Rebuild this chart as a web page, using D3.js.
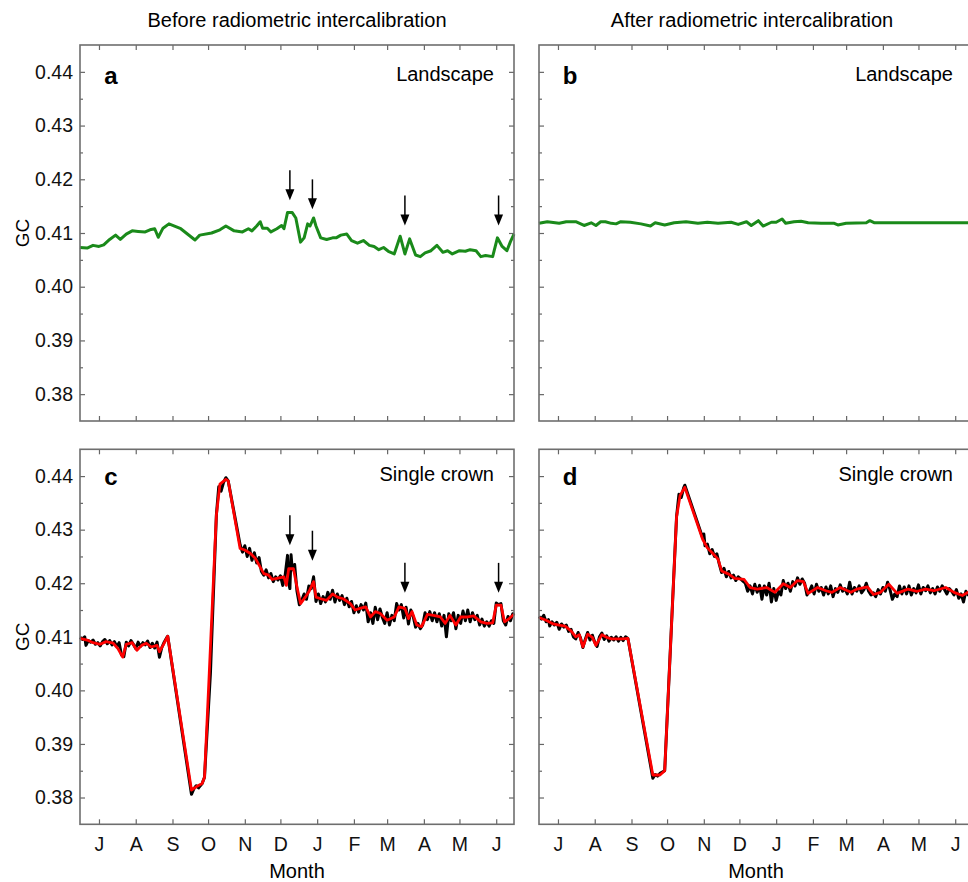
<!DOCTYPE html>
<html>
<head>
<meta charset="utf-8">
<script src="https://cdn.jsdelivr.net/npm/d3@7"></script>
<style>
body { margin: 0; background: #fff; }
svg { display: block; font-family: "Liberation Sans", Arial, sans-serif; }
</style>
</head>
<body>
<svg class="js-vis" width="968" height="882"></svg>
<script>
// x values are days since 15 June 2016
const startDate = new Date(2016, 5, 15),
    endDate = new Date(2017, 5, 16)

const yTicks = [0.38, 0.39, 0.40, 0.41, 0.42, 0.43, 0.44]
const yMinor = [0.385, 0.395, 0.405, 0.415, 0.425, 0.435]

const colTitles = ["Before radiometric intercalibration", "After radiometric intercalibration"]
const panelLetters = ["a", "b", "c", "d"]
const panelNames = ["Landscape", "Landscape", "Single crown", "Single crown"]

// arrows marking peaks in the uncorrected series
const arrowDays = [177, 196, 274, 353]
const arrowTipsA = [0.4161, 0.4144, 0.4114, 0.4114]
const arrowTipsC = [0.4271, 0.4242, 0.4182, 0.4182]

// landscape GC, before intercalibration
const landscapeBefore = [
  [0,.4073],[6,.4072],[11,.4077],[16,.4075],[20,.4078],[25,.4088],[30,.4096],[34,.4088],
  [39,.4098],[44,.4104],[49,.4103],[55,.4102],[59,.4106],[63,.4108],[66,.4092],[70,.4109],
  [75,.4117],[85,.4108],[97,.4087],[101,.4096],[111,.4100],[118,.4106],[123,.4113],[130,.4104],
  [137,.4102],[142,.4108],[145,.4104],[149,.4113],[152,.4121],[154,.4109],[158,.4109],[161,.4102],
  [166,.4108],[170,.4114],[172,.4108],[175,.4138],[179,.4138],[182,.4128],[186,.4083],[189,.4091],
  [192,.4117],[194,.4113],[197,.4128],[199,.4113],[203,.4091],[208,.4088],[213,.4091],[216,.4091],
  [220,.4096],[225,.4098],[229,.4086],[234,.4081],[239,.4086],[244,.4077],[248,.4075],[252,.4069],
  [256,.4073],[260,.4066],[265,.4061],[270,.4094],[274,.4061],[278,.4089],[283,.4059],[287,.4056],
  [291,.4063],[296,.4067],[301,.4077],[306,.4064],[310,.4067],[314,.4061],[320,.4067],[325,.4066],
  [329,.4069],[334,.4067],[338,.4056],[342,.4058],[348,.4056],[352,.4091],[356,.4075],[360,.4067],
  [363,.4084],[366,.4098]
]

// landscape GC, after intercalibration
const landscapeAfter = [
  [0,.4118],[7,.4121],[17,.4118],[23,.4121],[31,.4121],[38,.4114],[44,.4119],[48,.4114],
  [52,.4121],[56,.4121],[61,.4118],[65,.4117],[69,.4121],[77,.4120],[86,.4117],[94,.4113],
  [98,.4119],[106,.4115],[114,.4119],[124,.4121],[134,.4118],[142,.4120],[151,.4118],[162,.4120],
  [168,.4116],[175,.4121],[179,.4114],[185,.4123],[189,.4113],[196,.4120],[200,.4120],[205,.4126],
  [208,.4118],[215,.4121],[221,.4122],[227,.4119],[238,.4118],[249,.4118],[252,.4115],[259,.4118],
  [276,.4119],[279,.4123],[283,.4119],[308,.4119],[331,.4119],[351,.4119],[366,.4119]
]

// single crown, before: daily GC (black) and smoothed (red)
const crownBeforeDaily = [
  [0,.4099],[2,.4095],[4,.4100],[5,.4084],[7,.4093],[9,.4090],[11,.4094],[13,.4086],[15,.4089],
  [17,.4083],[19,.4091],[21,.4095],[23,.4087],[25,.4093],[27,.4085],[29,.4091],[31,.4082],[33,.4089],
  [35,.4066],[37,.4063],[39,.4090],[41,.4083],[43,.4093],[45,.4086],[47,.4078],[49,.4090],[51,.4082],
  [53,.4089],[55,.4085],[57,.4092],[59,.4080],[61,.4088],[63,.4079],[65,.4090],[67,.4062],[69,.4080],
  [71,.4090],[73,.4098],[74,.4101],[94,.3806],[96,.3816],[98,.3822],[100,.3818],[103,.3826],
  [105,.3838],[110,.4032],[115,.4327],[117,.4380],[119,.4372],[121,.4388],[123,.4397],[125,.4391],
  [135,.4272],[137,.4258],[139,.4270],[141,.4250],[143,.4265],[145,.4243],[147,.4257],[149,.4238],
  [151,.4248],[153,.4222],[155,.4215],[157,.4225],[159,.4210],[161,.4218],[163,.4203],[165,.4212],
  [167,.4206],[169,.4214],[171,.4196],[173,.4215],[175,.4252],[176,.4200],[177,.4190],[178,.4253],
  [179,.4225],[181,.4235],[183,.4185],[185,.4160],[187,.4168],[189,.4180],[191,.4170],[193,.4195],
  [195,.4190],[197,.4212],[199,.4166],[201,.4180],[203,.4162],[205,.4175],[207,.4165],[209,.4183],
  [211,.4170],[213,.4187],[215,.4165],[217,.4180],[219,.4168],[221,.4177],[223,.4160],[225,.4172],
  [227,.4156],[229,.4166],[231,.4145],[233,.4158],[235,.4146],[237,.4160],[239,.4150],[241,.4163],
  [243,.4128],[245,.4145],[247,.4125],[249,.4155],[251,.4132],[253,.4152],[255,.4136],[257,.4125],
  [259,.4145],[261,.4122],[263,.4140],[265,.4130],[267,.4162],[269,.4150],[271,.4160],[273,.4135],
  [275,.4155],[277,.4124],[279,.4150],[281,.4138],[283,.4118],[285,.4125],[287,.4115],[289,.4122],
  [291,.4145],[293,.4132],[295,.4147],[297,.4130],[299,.4145],[301,.4128],[303,.4143],[305,.4120],
  [307,.4140],[309,.4100],[311,.4143],[313,.4130],[315,.4145],[317,.4115],[319,.4140],[321,.4125],
  [323,.4148],[325,.4130],[327,.4150],[329,.4128],[331,.4145],[333,.4132],[335,.4140],[337,.4122],
  [339,.4133],[341,.4120],[343,.4128],[345,.4120],[347,.4130],[349,.4125],[351,.4163],[353,.4160],
  [355,.4162],[357,.4130],[359,.4122],[361,.4138],[363,.4130],[365,.4143],[366,.4140]
]
const crownBeforeSmooth = [
  [0,.4097],[6,.4094],[11,.4089],[17,.4086],[22,.4091],[28,.4088],[32,.4078],[36,.4062],[39,.4086],
  [44,.4089],[48,.4075],[52,.4084],[56,.4088],[60,.4081],[65,.4084],[67,.4072],[70,.4084],[74,.4101],
  [94,.3814],[98,.3820],[103,.3826],[105,.3838],[109,.4032],[115,.4327],[118,.4385],[123,.4394],
  [125,.4391],[135,.4265],[139,.4262],[144,.4255],[148,.4246],[155,.4218],[159,.4215],[162,.4207],
  [166,.4209],[172,.4212],[174,.4196],[176,.4227],[180,.4227],[183,.4193],[186,.4162],[190,.4174],
  [193,.4184],[197,.4203],[199,.4174],[203,.4171],[208,.4168],[213,.4180],[217,.4174],[222,.4171],
  [228,.4162],[232,.4150],[236,.4153],[241,.4156],[245,.4137],[249,.4147],[253,.4144],[259,.4131],
  [265,.4137],[269,.4156],[274,.4153],[277,.4134],[280,.4147],[284,.4122],[288,.4119],[293,.4142],
  [298,.4140],[304,.4137],[308,.4125],[312,.4140],[317,.4122],[321,.4137],[327,.4137],[332,.4139],
  [338,.4128],[343,.4125],[348,.4126],[351,.4159],[355,.4159],[358,.4128],[362,.4134],[366,.4142]
]

// single crown, after
const crownAfterDaily = [
  [0,.4138],[2,.4133],[4,.4140],[6,.4128],[8,.4132],[9,.4120],[11,.4128],[13,.4122],[15,.4127],
  [17,.4114],[19,.4124],[21,.4118],[23,.4122],[25,.4110],[27,.4114],[29,.4100],[31,.4096],[33,.4108],
  [35,.4098],[37,.4080],[39,.4095],[41,.4108],[43,.4094],[45,.4103],[47,.4090],[49,.4082],[51,.4100],
  [53,.4107],[55,.4095],[57,.4102],[59,.4092],[61,.4099],[63,.4094],[65,.4100],[67,.4092],[69,.4099],
  [71,.4093],[73,.4100],[75,.4097],[96,.3836],[98,.3843],[100,.3840],[102,.3845],[106,.3850],
  [116,.4324],[118,.4366],[120,.4360],[122,.4378],[123,.4383],[138,.4285],[139,.4292],[140,.4270],
  [142,.4273],[144,.4255],[146,.4263],[148,.4250],[150,.4255],[152,.4236],[154,.4220],[156,.4228],
  [158,.4212],[160,.4222],[162,.4210],[164,.4215],[166,.4205],[168,.4212],[170,.4208],[172,.4204],
  [174,.4200],[176,.4185],[178,.4195],[180,.4180],[182,.4198],[184,.4183],[186,.4196],[188,.4170],
  [190,.4195],[192,.4178],[194,.4200],[196,.4165],[198,.4190],[200,.4168],[202,.4185],[204,.4178],
  [206,.4205],[208,.4190],[210,.4200],[212,.4185],[214,.4203],[216,.4195],[218,.4210],[220,.4198],
  [222,.4208],[224,.4200],[226,.4178],[228,.4185],[230,.4195],[232,.4180],[234,.4198],[236,.4185],
  [238,.4192],[240,.4178],[242,.4193],[244,.4180],[246,.4195],[248,.4175],[250,.4190],[252,.4183],
  [254,.4197],[256,.4185],[258,.4190],[260,.4180],[262,.4202],[264,.4180],[266,.4192],[268,.4185],
  [270,.4195],[272,.4182],[274,.4188],[276,.4200],[278,.4185],[280,.4178],[282,.4182],[284,.4175],
  [286,.4188],[288,.4180],[290,.4192],[292,.4185],[294,.4202],[296,.4188],[298,.4170],[300,.4180],
  [302,.4175],[304,.4195],[306,.4180],[308,.4193],[310,.4180],[312,.4195],[314,.4178],[316,.4190],
  [318,.4182],[320,.4197],[322,.4180],[324,.4192],[326,.4186],[328,.4195],[330,.4182],[332,.4190],
  [334,.4180],[336,.4193],[338,.4185],[340,.4195],[342,.4188],[344,.4180],[346,.4190],[348,.4185],
  [350,.4178],[352,.4188],[354,.4172],[356,.4180],[358,.4165],[360,.4185],[362,.4178],[364,.4188],
  [366,.4180]
]
const crownAfterSmooth = [
  [0,.4136],[6,.4131],[12,.4124],[17,.4122],[22,.4120],[27,.4111],[31,.4100],[34,.4104],[37,.4081],
  [41,.4105],[45,.4099],[48,.4084],[53,.4104],[57,.4099],[61,.4096],[67,.4096],[71,.4096],[75,.4097],
  [96,.3842],[102,.3842],[106,.3850],[116,.4324],[119,.4364],[123,.4379],[138,.4282],[142,.4266],
  [146,.4257],[151,.4245],[154,.4223],[160,.4217],[165,.4209],[173,.4207],[178,.4192],[184,.4189],
  [192,.4192],[199,.4183],[206,.4199],[212,.4192],[218,.4205],[223,.4203],[227,.4181],[235,.4192],
  [242,.4186],[247,.4183],[254,.4192],[263,.4183],[268,.4189],[277,.4193],[282,.4179],[288,.4183],
  [295,.4198],[302,.4181],[311,.4189],[319,.4185],[326,.4189],[333,.4186],[343,.4192],[350,.4183],
  [357,.4177],[362,.4183],[366,.4180]
]

const svg = d3.select(".js-vis")

const lefts = [80, 539], tops = [45, 449.3], w = 434, heights = [376, 375]

const panels = [
  { col: 0, row: 0, series: [{ data: landscapeBefore, color: "#1a8a1a", width: 3 }], arrows: arrowTipsA },
  { col: 1, row: 0, series: [{ data: landscapeAfter, color: "#1a8a1a", width: 3 }] },
  { col: 0, row: 1, series: [{ data: crownBeforeDaily, color: "#000", width: 3 }, { data: crownBeforeSmooth, color: "#ff0000", width: 2.8 }], arrows: arrowTipsC },
  { col: 1, row: 1, series: [{ data: crownAfterDaily, color: "#000", width: 3 }, { data: crownAfterSmooth, color: "#ff0000", width: 2.8 }] }
]

const toDate = d => d3.timeDay.offset(startDate, d)
const months = d3.timeMonth.range(d3.timeMonth.ceil(startDate), endDate)

panels.forEach((p, i) => {
  const h = heights[p.row]
  const g = svg.append("g")
    .attr("transform", "translate(" + lefts[p.col] + "," + tops[p.row] + ")")

  const x = d3.scaleTime().domain([startDate, endDate]).range([0, w])
  const y = d3.scaleLinear().domain([0.375, 0.445]).range([h, 0])

  // axes with inward ticks
  g.append("g").attr("transform", "translate(0," + h + ")")
    .call(d3.axisBottom(x).tickValues(months).tickSizeInner(-5).tickSizeOuter(0).tickPadding(13)
      .tickFormat(d => p.row == 1 ? d3.timeFormat("%b")(d)[0] : ""))
  g.append("g")
    .call(d3.axisTop(x).tickValues(months).tickSizeInner(-5).tickSizeOuter(0).tickFormat(""))
  g.append("g")
    .call(d3.axisLeft(y).tickValues(yTicks).tickSizeInner(-5).tickSizeOuter(0).tickPadding(7)
      .tickFormat(d => p.col == 0 ? d3.format(".2f")(d) : ""))
  g.append("g").attr("transform", "translate(" + w + ",0)")
    .call(d3.axisRight(y).tickValues(yTicks).tickSizeInner(-5).tickSizeOuter(0).tickFormat(""))
  g.append("g")
    .call(d3.axisLeft(y).tickValues(yMinor).tickSizeInner(-3).tickSizeOuter(0).tickFormat(""))
  g.append("g").attr("transform", "translate(" + w + ",0)")
    .call(d3.axisRight(y).tickValues(yMinor).tickSizeInner(-3).tickSizeOuter(0).tickFormat(""))

  g.selectAll(".domain").remove()
  g.selectAll(".tick line").attr("stroke", "#666").attr("stroke-width", 1.2)
  g.selectAll(".tick text").attr("fill", "#111").style("font-size", "19.5px")
    .style("font-family", "'Liberation Sans', Arial, sans-serif")

  const line = d3.line()
    .x(d => x(toDate(d[0])))
    .y(d => y(d[1]))

  p.series.forEach(s => {
    g.append("path")
      .datum(s.data)
      .attr("d", line)
      .attr("fill", "none")
      .attr("stroke", s.color)
      .attr("stroke-width", s.width)
      .attr("stroke-linejoin", "round")
  })

  g.append("rect")
    .attr("width", w).attr("height", h)
    .attr("fill", "none").attr("stroke", "#6e6e6e").attr("stroke-width", 1.6)

  if (p.arrows) {
    const arr = g.selectAll(".arrow")
      .data(arrowDays.map((d, k) => [d, p.arrows[k]]))
    .enter().append("g")
      .attr("class", "arrow")
      .attr("transform", d => "translate(" + x(toDate(d[0])) + "," + y(d[1]) + ")")
    arr.append("line")
      .attr("y1", -30).attr("y2", -8)
      .attr("stroke", "#000").attr("stroke-width", 1.5)
    arr.append("path")
      .attr("d", "M-4.5,-11L4.5,-11L0,0Z")
      .attr("fill", "#000")
  }

  g.append("text")
    .attr("x", 31)
    .attr("y", p.row == 0 ? 39 : 36)
    .attr("text-anchor", "middle")
    .style("font-weight", "bold").style("font-size", "24px")
    .text(panelLetters[i])

  g.append("text")
    .attr("x", w - 20)
    .attr("y", p.row == 0 ? 35.7 : 31.4)
    .attr("text-anchor", "end")
    .style("font-size", "20px")
    .text(panelNames[i])

  if (p.col == 0) {
    g.append("text")
      .attr("transform", "translate(-58," + (h / 2) + ") rotate(-90)")
      .attr("text-anchor", "middle")
      .attr("dy", "0.35em")
      .style("font-size", "19px")
      .text("GC")
  }
  if (p.row == 1) {
    g.append("text")
      .attr("x", w / 2)
      .attr("y", h + 53.7)
      .attr("text-anchor", "middle")
      .style("font-size", "20px")
      .text("Month")
  }
})

svg.selectAll(".title")
  .data(colTitles)
.enter().append("text")
  .attr("class", "title")
  .attr("x", (d, i) => i == 0 ? lefts[0] + w / 2 : 752)
  .attr("y", 27)
  .attr("text-anchor", "middle")
  .style("font-size", "20px")
  .text(String)
</script>
</body>
</html>
